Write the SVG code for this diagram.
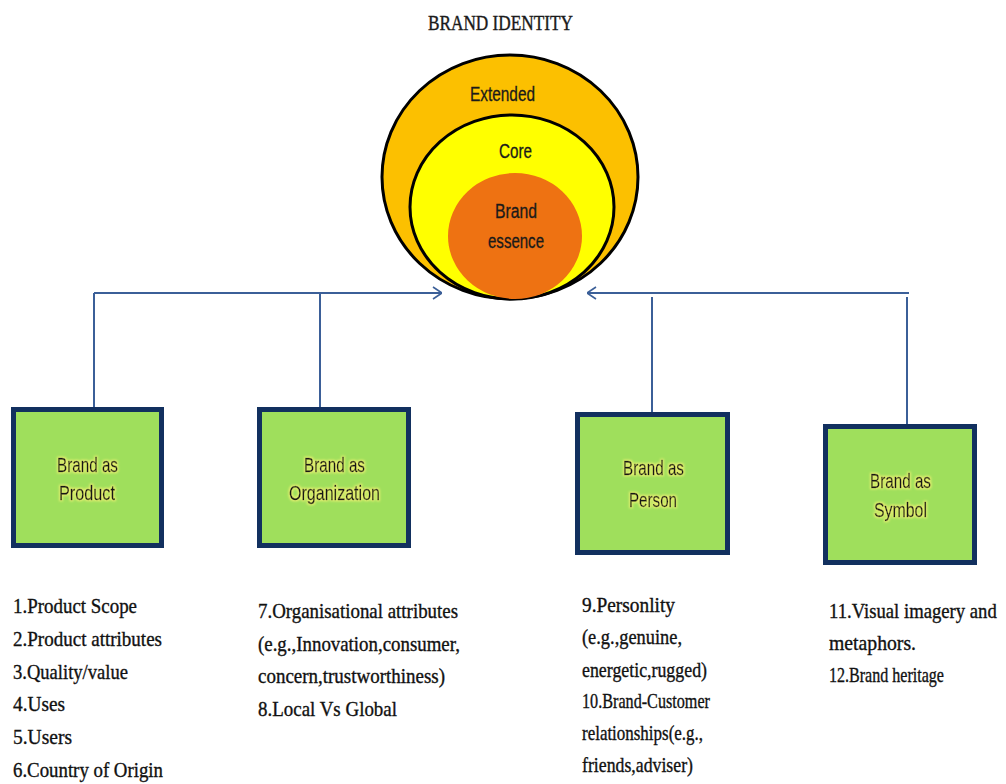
<svg xmlns="http://www.w3.org/2000/svg" width="1006" height="784" viewBox="0 0 1006 784">
  <defs>
    <style>
      .title { font-family: "Liberation Serif", serif; font-size: 21px; fill: #1a1a1a; stroke: #1a1a1a; stroke-width: 0.4; }
      .ring { font-family: "Liberation Sans", Arial, sans-serif; font-size: 20px; fill: #1a1a1a; stroke: #1a1a1a; stroke-width: 0.3; }
      .box { fill: #9fdf5c; stroke: #12305f; stroke-width: 5; }
      .lbl { font-family: "Liberation Sans", Arial, sans-serif; font-size: 21px; fill: #141414; stroke: #141414; stroke-width: 0.35; }
      .list { font-family: "Liberation Serif", serif; font-size: 21px; fill: #111111; stroke: #111111; stroke-width: 0.35; }
      .conn { stroke: #3b5f98; stroke-width: 2; fill: none; }
      .rim { stroke: #000000; stroke-width: 3; }
    </style>
    <marker id="arrow" viewBox="0 0 10 14" refX="10" refY="7" markerWidth="10" markerHeight="14" markerUnits="userSpaceOnUse" orient="auto">
      <path d="M1,1 L10,7 L1,13" fill="none" stroke="#3b5f98" stroke-width="1.6"/>
    </marker>
    <filter id="glow" x="-10%" y="-30%" width="120%" height="160%">
      <feMorphology in="SourceAlpha" operator="dilate" radius="1" result="fat"/>
      <feGaussianBlur in="fat" stdDeviation="1.2" result="soft"/>
      <feFlood flood-color="#e8f070" result="tint"/>
      <feComposite in="tint" in2="soft" operator="in" result="halo"/>
      <feMerge>
        <feMergeNode in="halo"/>
        <feMergeNode in="SourceGraphic"/>
      </feMerge>
    </filter>
  </defs>

  <rect width="1006" height="784" fill="#ffffff"/>

  <!-- heading -->
  <text class="title" x="428" y="30" textLength="145" lengthAdjust="spacingAndGlyphs">BRAND IDENTITY</text>

  <!-- connectors -->
  <g id="connectors">
    <line class="conn" x1="94" y1="293" x2="442" y2="293" marker-end="url(#arrow)"/>
    <line class="conn" x1="94" y1="293" x2="94" y2="407"/>
    <line class="conn" x1="320" y1="293" x2="320" y2="407"/>
    <line class="conn" x1="909" y1="293" x2="587" y2="293" marker-end="url(#arrow)"/>
    <line class="conn" x1="652" y1="297" x2="652" y2="412"/>
    <line class="conn" x1="907" y1="297" x2="907" y2="424"/>
  </g>

  <!-- nested identity rings -->
  <g id="identity-extended">
    <ellipse class="rim" cx="510" cy="177" rx="128" ry="122" fill="#fcc000"/>
    <text class="ring" x="470" y="101" textLength="65" lengthAdjust="spacingAndGlyphs">Extended</text>
  </g>
  <g id="identity-core">
    <ellipse class="rim" cx="512" cy="207" rx="102" ry="92" fill="#ffff00"/>
    <text class="ring" x="499" y="158" textLength="33" lengthAdjust="spacingAndGlyphs">Core</text>
  </g>
  <g id="identity-essence">
    <ellipse cx="515" cy="236" rx="67" ry="63" fill="#ee7212"/>
    <text class="ring" x="495" y="218" textLength="42" lengthAdjust="spacingAndGlyphs">Brand</text>
    <text class="ring" x="488" y="248" textLength="56" lengthAdjust="spacingAndGlyphs">essence</text>
  </g>

  <!-- perspective boxes -->
  <g id="brand-product">
    <rect class="box" x="13.5" y="409.5" width="148" height="136"/>
    <g filter="url(#glow)">
      <text class="lbl" x="57" y="472" textLength="61" lengthAdjust="spacingAndGlyphs">Brand as</text>
      <text class="lbl" x="59" y="500" textLength="56" lengthAdjust="spacingAndGlyphs">Product</text>
    </g>
  </g>
  <g id="brand-organization">
    <rect class="box" x="259.5" y="409.5" width="149" height="136"/>
    <g filter="url(#glow)">
      <text class="lbl" x="304" y="472" textLength="61" lengthAdjust="spacingAndGlyphs">Brand as</text>
      <text class="lbl" x="289" y="500" textLength="91" lengthAdjust="spacingAndGlyphs">Organization</text>
    </g>
  </g>
  <g id="brand-person">
    <rect class="box" x="577.5" y="414.5" width="150" height="138"/>
    <g filter="url(#glow)">
      <text class="lbl" x="623" y="475" textLength="61" lengthAdjust="spacingAndGlyphs">Brand as</text>
      <text class="lbl" x="629" y="507" textLength="48" lengthAdjust="spacingAndGlyphs">Person</text>
    </g>
  </g>
  <g id="brand-symbol">
    <rect class="box" x="825.5" y="426.5" width="149" height="136"/>
    <g filter="url(#glow)">
      <text class="lbl" x="870" y="488" textLength="61" lengthAdjust="spacingAndGlyphs">Brand as</text>
      <text class="lbl" x="874" y="517" textLength="53" lengthAdjust="spacingAndGlyphs">Symbol</text>
    </g>
  </g>

  <!-- attribute lists -->
  <g id="list-product">
    <text class="list" x="13" y="613" textLength="124" lengthAdjust="spacingAndGlyphs">1.Product Scope</text>
    <text class="list" x="13" y="646" textLength="149" lengthAdjust="spacingAndGlyphs">2.Product attributes</text>
    <text class="list" x="13" y="679" textLength="115" lengthAdjust="spacingAndGlyphs">3.Quality/value</text>
    <text class="list" x="13" y="711" textLength="52" lengthAdjust="spacingAndGlyphs">4.Uses</text>
    <text class="list" x="13" y="744" textLength="59" lengthAdjust="spacingAndGlyphs">5.Users</text>
    <text class="list" x="13" y="777" textLength="150" lengthAdjust="spacingAndGlyphs">6.Country of Origin</text>
  </g>
  <g id="list-organization">
    <text class="list" x="258" y="618" textLength="200" lengthAdjust="spacingAndGlyphs">7.Organisational attributes</text>
    <text class="list" x="258" y="651" textLength="202" lengthAdjust="spacingAndGlyphs">(e.g.,Innovation,consumer,</text>
    <text class="list" x="258" y="683" textLength="187" lengthAdjust="spacingAndGlyphs">concern,trustworthiness)</text>
    <text class="list" x="258" y="716" textLength="139" lengthAdjust="spacingAndGlyphs">8.Local Vs Global</text>
  </g>
  <g id="list-person">
    <text class="list" x="582" y="612" textLength="93" lengthAdjust="spacingAndGlyphs">9.Personlity</text>
    <text class="list" x="582" y="644" textLength="100" lengthAdjust="spacingAndGlyphs">(e.g.,genuine,</text>
    <text class="list" x="582" y="677" textLength="125" lengthAdjust="spacingAndGlyphs">energetic,rugged)</text>
    <text class="list" x="582" y="708" textLength="128" lengthAdjust="spacingAndGlyphs">10.Brand-Customer</text>
    <text class="list" x="582" y="740" textLength="121" lengthAdjust="spacingAndGlyphs">relationships(e.g.,</text>
    <text class="list" x="582" y="772" textLength="111" lengthAdjust="spacingAndGlyphs">friends,adviser)</text>
  </g>
  <g id="list-symbol">
    <g transform="translate(829,618) scale(0.89,1)">
      <text class="list" x="0" y="0">11.Visual imagery and</text>
    </g>
    <text class="list" x="829" y="650" textLength="87" lengthAdjust="spacingAndGlyphs">metaphors.</text>
    <text class="list" x="829" y="682" textLength="115" lengthAdjust="spacingAndGlyphs">12.Brand heritage</text>
  </g>
</svg>
